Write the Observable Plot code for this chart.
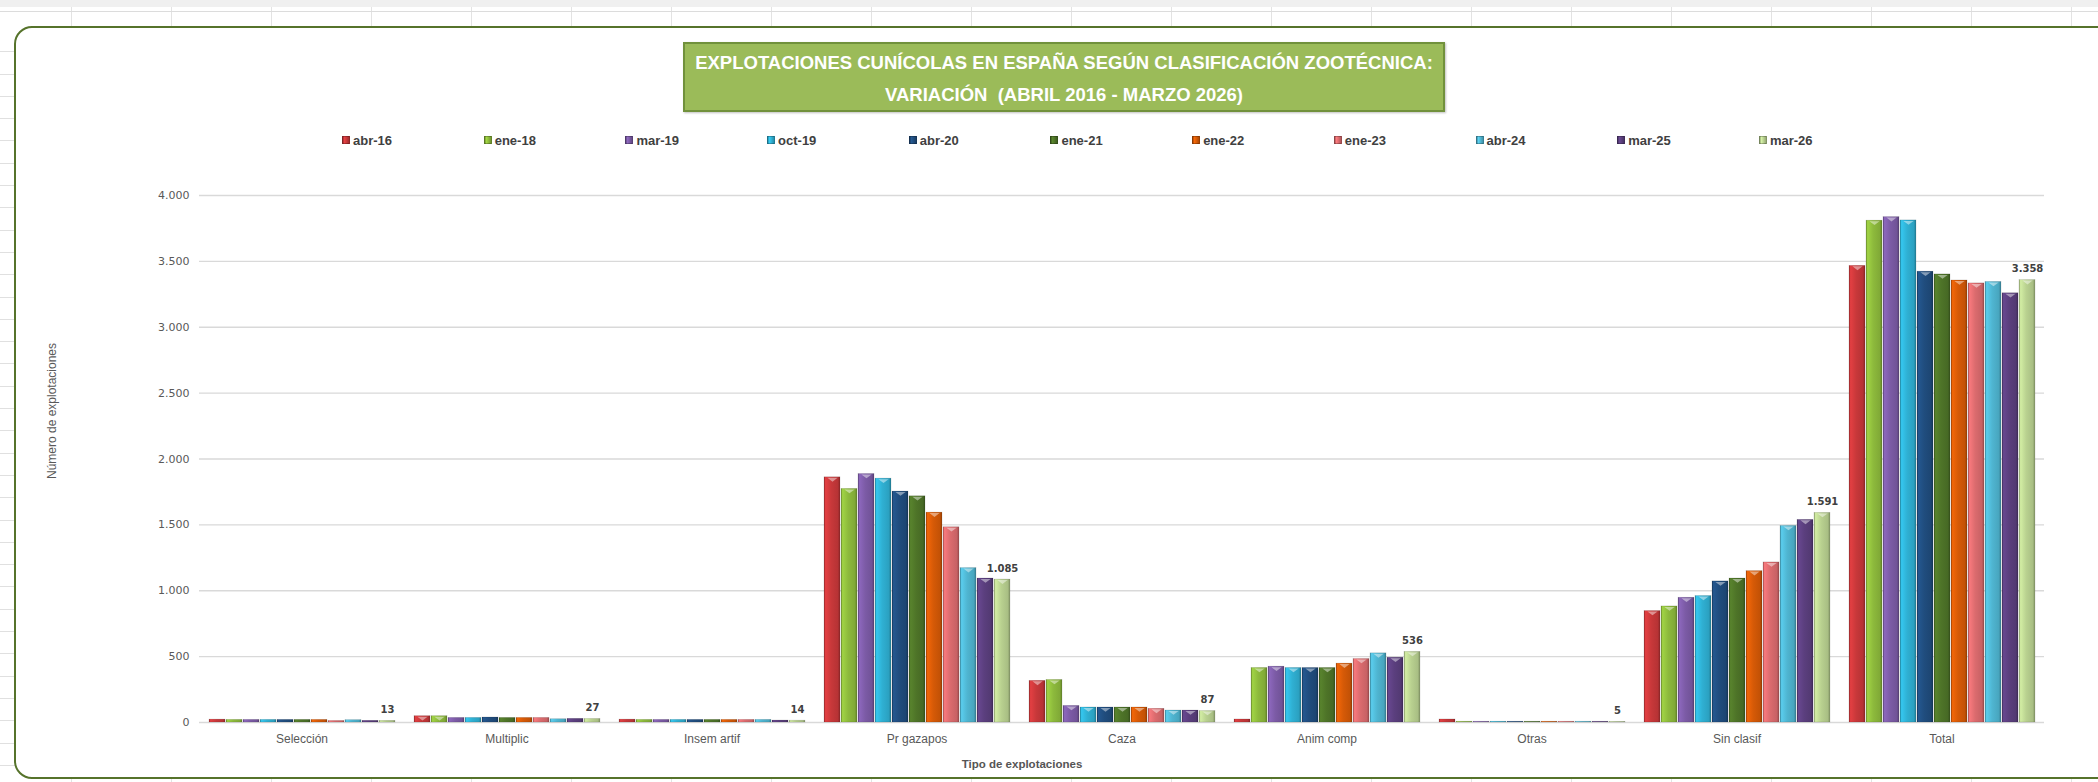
<!DOCTYPE html>
<html><head><meta charset="utf-8">
<script src="https://cdn.jsdelivr.net/npm/d3@7"></script>
<script src="https://cdn.jsdelivr.net/npm/@observablehq/plot@0.6"></script>
<style>
html,body{margin:0;padding:0;}
body{width:2098px;height:782px;overflow:hidden;position:relative;background:#fff;font-family:"Liberation Sans",Arial,sans-serif;}
#sheet{position:absolute;left:0;top:0;width:2098px;height:782px;
  background:
   linear-gradient(#f0f0f0,#f0f0f0) 0 0/100% 7px no-repeat,
   linear-gradient(#dcdcdc,#dcdcdc) 0 11px/100% 1px no-repeat,
   repeating-linear-gradient(to right, transparent 0, transparent 71px, #e3e3e3 71px, #e3e3e3 72px, transparent 72px, transparent 100px);}
#rows{position:absolute;left:0;top:30px;width:16px;height:752px;background:repeating-linear-gradient(to bottom, transparent 0, transparent 21.3px, #e0e0e0 21.3px, #e0e0e0 22.3px);}
#frame{position:absolute;left:14px;top:26px;width:2200px;height:753px;box-sizing:border-box;border:2.5px solid #56732b;border-radius:18px;background:#fff;}
#title{position:absolute;left:683px;top:42px;width:762px;height:70px;box-sizing:border-box;background:#9bbb59;border:2px solid #71913c;color:#fff;font-weight:bold;font-size:18.5px;font-family:"Liberation Sans",Arial,sans-serif;line-height:32px;text-align:center;padding-top:3px;white-space:pre;box-shadow:1px 1px 2px rgba(0,0,0,.25);}
#legend{position:absolute;left:342px;top:132px;height:16px;display:flex;}
.item{width:141.7px;display:flex;align-items:center;font:bold 13px "Liberation Sans",Arial,sans-serif;color:#404040;white-space:nowrap;}
.sw{width:8px;height:8px;margin-right:3px;box-sizing:border-box;border:0.5px solid rgba(0,0,0,.25);}
#chart{position:absolute;left:0;top:150px;}
</style></head>
<body>
<div id="sheet"></div>
<div id="rows"></div>
<div id="frame"></div>
<div id="title">EXPLOTACIONES CUNÍCOLAS EN ESPAÑA SEGÚN CLASIFICACIÓN ZOOTÉCNICA:
VARIACIÓN  (ABRIL 2016 - MARZO 2026)</div>
<div id="legend"></div>
<div id="chart"></div>
<script>
const categories = ["Selección","Multiplic","Insem artif","Pr gazapos","Caza","Anim comp","Otras","Sin clasif","Total"];
const series = ["abr-16","ene-18","mar-19","oct-19","abr-20","ene-21","ene-22","ene-23","abr-24","mar-25","mar-26"];
// values per series, in category order
const abr16 = [22, 48, 22, 1861, 316, 23, 23, 846, 3466];
const ene18 = [20, 48, 20, 1773, 323, 414, 6, 881, 3809];
const mar19 = [20, 35, 20, 1886, 126, 424, 6, 947, 3836];
const oct19 = [20, 35, 20, 1851, 114, 414, 6, 960, 3811];
const abr20 = [20, 38, 20, 1753, 114, 414, 6, 1071, 3422];
const ene21 = [20, 35, 20, 1717, 114, 414, 6, 1093, 3401];
const ene22 = [20, 35, 20, 1593, 114, 447, 6, 1149, 3355];
const ene23 = [12, 35, 20, 1482, 104, 482, 6, 1215, 3333];
const abr24 = [18, 25, 20, 1172, 91, 525, 6, 1492, 3344];
const mar25 = [13, 28, 15, 1093, 91, 492, 6, 1538, 3258];
const mar26 = [13, 27, 14, 1085, 87, 536, 5, 1591, 3358];
const seriesValues = [abr16, ene18, mar19, oct19, abr20, ene21, ene22, ene23, abr24, mar25, mar26];
const seriesColors = ["#c8383a","#8dba3c","#7c5ba6","#2fb0d3","#204d7e","#4e7428","#d65a07","#db6b6e","#4fb5d1","#5b3f7e","#b9d190"];
const yTicks = [0, 500, 1000, 1500, 2000, 2500, 3000, 3500, 4000];

const data = series.flatMap((s, i) => categories.map((c, j) => ({series: s, cat: c, value: seriesValues[i][j]})));

// gradients for the bevelled bars
const defs = d3.select("body").append("svg").attr("width", 0).attr("height", 0)
  .style("position", "absolute").append("defs");
seriesColors.forEach((c, i) => {
  const col = d3.color(c);
  const g = defs.append("linearGradient").attr("id", "g" + i)
    .attr("x1", 0).attr("x2", 1).attr("y1", 0).attr("y2", 0);
  [[0, col.darker(0.7)], [0.1, col.brighter(0.35)], [0.45, col], [0.85, col.darker(0.25)], [1, col.darker(0.9)]]
    .forEach(([o, cc]) => g.append("stop").attr("offset", o).attr("stop-color", cc.formatHex()));
});

// legend
const legend = d3.select("#legend");
series.forEach((s, i) => {
  const col = d3.color(seriesColors[i]);
  const it = legend.append("div").attr("class", "item");
  it.append("div").attr("class", "sw").style("background",
    `linear-gradient(to right, ${col.darker(0.5).formatHex()}, ${col.brighter(0.4).formatHex()} 25%, ${col.formatHex()} 60%, ${col.darker(0.6).formatHex()})`);
  it.append("span").text(s);
});

const fmt = d3.formatLocale({decimal: ",", thousands: ".", grouping: [3], currency: ["", "€"]}).format(",d");

const bevel = {
  draw(context, size) {
    const s = Math.sqrt(size);
    context.moveTo(-0.6 * s, 0);
    context.lineTo(0.6 * s, 0);
    context.lineTo(0, 0.45 * s);
    context.closePath();
  }
};

const plot = Plot.plot({
  width: 2098, height: 632,
  marginLeft: 198, marginRight: 53, marginTop: 45, marginBottom: 60,
  style: {fontFamily: "Liberation Sans, Arial, sans-serif", background: "transparent", overflow: "visible"},
  fx: {domain: categories, padding: 0, label: null},
  x: {domain: series, paddingInner: 0.08, paddingOuter: 0.4, axis: null},
  y: {domain: [0, 4000], label: null},
  color: {domain: series, range: series.map((s, i) => `url(#g${i})`)},
  marks: [
    Plot.gridY(yTicks, {stroke: "#d9d9d9", strokeOpacity: 1, strokeWidth: 1.3}),
    Plot.axisY(yTicks, {tickSize: 0, tickPadding: 10, tickFormat: fmt, fontFamily: "DejaVu Sans", fontSize: 11, color: "#595959", label: null}),
    Plot.axisFx({anchor: "bottom", tickSize: 0, tickPadding: 12, fontFamily: "Liberation Sans", fontSize: 12, color: "#595959", label: null}),
    Plot.barY(data, {fx: "cat", x: "series", y: "value", fill: "series", stroke: "#000", strokeOpacity: 0.18, strokeWidth: 0.6}),
    Plot.dot(data.filter(d => d.value > 40), {fx: "cat", x: "series", y: "value", symbol: bevel, r: 4.8, fill: "#fff", fillOpacity: 0.45, dy: 0.5}),
    Plot.text(data.filter(d => d.series === series[series.length - 1]), {
      fx: "cat", x: "series", y: "value", text: d => fmt(d.value),
      lineAnchor: "bottom", dy: -8, fontFamily: "DejaVu Sans", fontWeight: "bold", fontSize: 10, fill: "#404040"}),
    Plot.text(["Número de explotaciones"], {fx: [categories[0]], text: d => d, frameAnchor: "left", rotate: -90,
      textAnchor: "middle", lineAnchor: "middle", dx: -147, dy: -48, fontSize: 12, fill: "#595959"}),
    Plot.text(["Tipo de explotaciones"], {fx: [categories[4]], text: d => d, frameAnchor: "bottom",
      lineAnchor: "middle", dx: -100, dy: 42, fontSize: 11.5, fontWeight: "bold", fill: "#555"})
  ]
});
document.getElementById("chart").appendChild(plot);
</script>
</body></html>
